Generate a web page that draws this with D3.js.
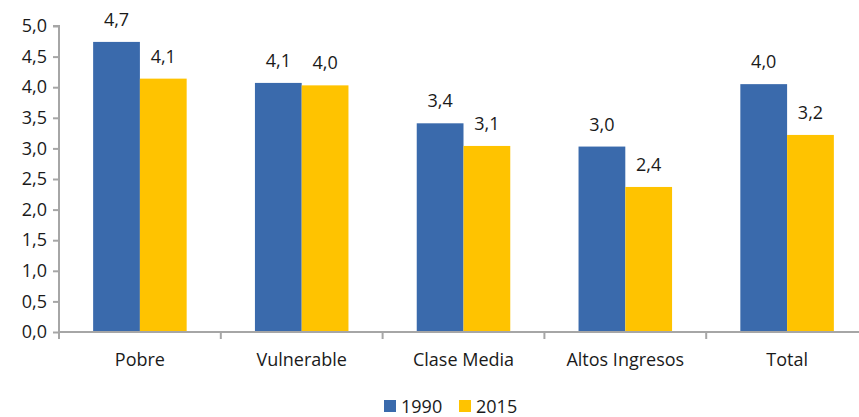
<!DOCTYPE html>
<head>
<meta charset="utf-8">
<script src="https://d3js.org/d3.v7.min.js"></script>
<style>
body { margin: 0; background: #fff; }
text { font-family: "Open Sans", "Noto Sans", sans-serif; fill: #1a1a1a; }
</style>
</head>
<body>
<div id="chart"></div>
<script>
// data
var categories = ["Pobre", "Vulnerable", "Clase Media", "Altos Ingresos", "Total"];
var series = ["1990", "2015"];
var values1990 = [4.74, 4.07, 3.41, 3.03, 4.05];
var values2015 = [4.14, 4.03, 3.04, 2.37, 3.22];
var labels1990 = ["4,7", "4,1", "3,4", "3,0", "4,0"];
var labels2015 = ["4,1", "4,0", "3,1", "2,4", "3,2"];
var yTicks = [0, 0.5, 1, 1.5, 2, 2.5, 3, 3.5, 4, 4.5, 5];
var colors = ["#3a6aac", "#ffc300"];

var width = 859, height = 417;
var svg = d3.select("#chart").append("svg")
  .attr("width", width).attr("height", height);

var x = d3.scaleBand().domain(categories).range([59, 868]);
var xs = d3.scaleBand().domain(series).range([0, x.bandwidth()])
  .paddingInner(0).paddingOuter(0.73);
var y = d3.scaleLinear().domain([0, 5]).range([332, 26]);

// y axis
var yAxis = svg.append("g")
  .attr("transform", "translate(59,0)")
  .call(d3.axisLeft(y).tickValues(yTicks).tickSize(6).tickPadding(6)
    .tickFormat(function(d) { return d3.format(".1f")(d).replace(".", ","); }));
yAxis.selectAll("text").style("font-size", "18px").attr("fill", "#1a1a1a");
yAxis.selectAll("line").attr("stroke", "#a6a6a6").attr("stroke-width", 2);
yAxis.select(".domain").attr("stroke", "#a6a6a6").attr("stroke-width", 2)
  .attr("d", "M-6," + y(5) + "H0V" + y(0));

// bars
var groups = svg.selectAll(".grp").data(categories).enter().append("g")
  .attr("transform", function(d) { return "translate(" + x(d) + ",0)"; });

groups.each(function(c, i) {
  var g = d3.select(this);
  var vals = [values1990[i], values2015[i]];
  var labs = [labels1990[i], labels2015[i]];
  series.forEach(function(s, j) {
    g.append("rect")
      .attr("x", xs(s))
      .attr("y", y(vals[j]))
      .attr("width", xs.bandwidth())
      .attr("height", y(0) - y(vals[j]))
      .attr("fill", colors[j]);
    g.append("text")
      .attr("x", xs(s) + xs.bandwidth() / 2)
      .attr("y", y(vals[j]) - 16)
      .attr("text-anchor", "middle")
      .style("font-size", "18px")
      .text(labs[j]);
  });
});

// x axis
var xAxis = svg.append("g")
  .attr("transform", "translate(0," + y(0) + ")")
  .call(d3.axisBottom(x).tickSize(0).tickPadding(21));
xAxis.selectAll("text").style("font-size", "18px").attr("fill", "#1a1a1a");
xAxis.select(".domain").attr("stroke", "#a6a6a6").attr("stroke-width", 2)
  .attr("d", "M59,0H868");
xAxis.selectAll(".sep").data(categories).enter().append("line")
  .attr("class", "sep")
  .attr("x1", function(d) { return x(d); })
  .attr("x2", function(d) { return x(d); })
  .attr("y1", 0).attr("y2", 7)
  .attr("stroke", "#a6a6a6").attr("stroke-width", 2);

// legend
var legendX = [384, 459];
series.forEach(function(s, j) {
  svg.append("rect")
    .attr("x", legendX[j]).attr("y", 400)
    .attr("width", 12).attr("height", 12)
    .attr("fill", colors[j]);
  svg.append("text")
    .attr("x", legendX[j] + 17).attr("y", 413)
    .style("font-size", "18px")
    .text(s);
});
</script>
</body>
